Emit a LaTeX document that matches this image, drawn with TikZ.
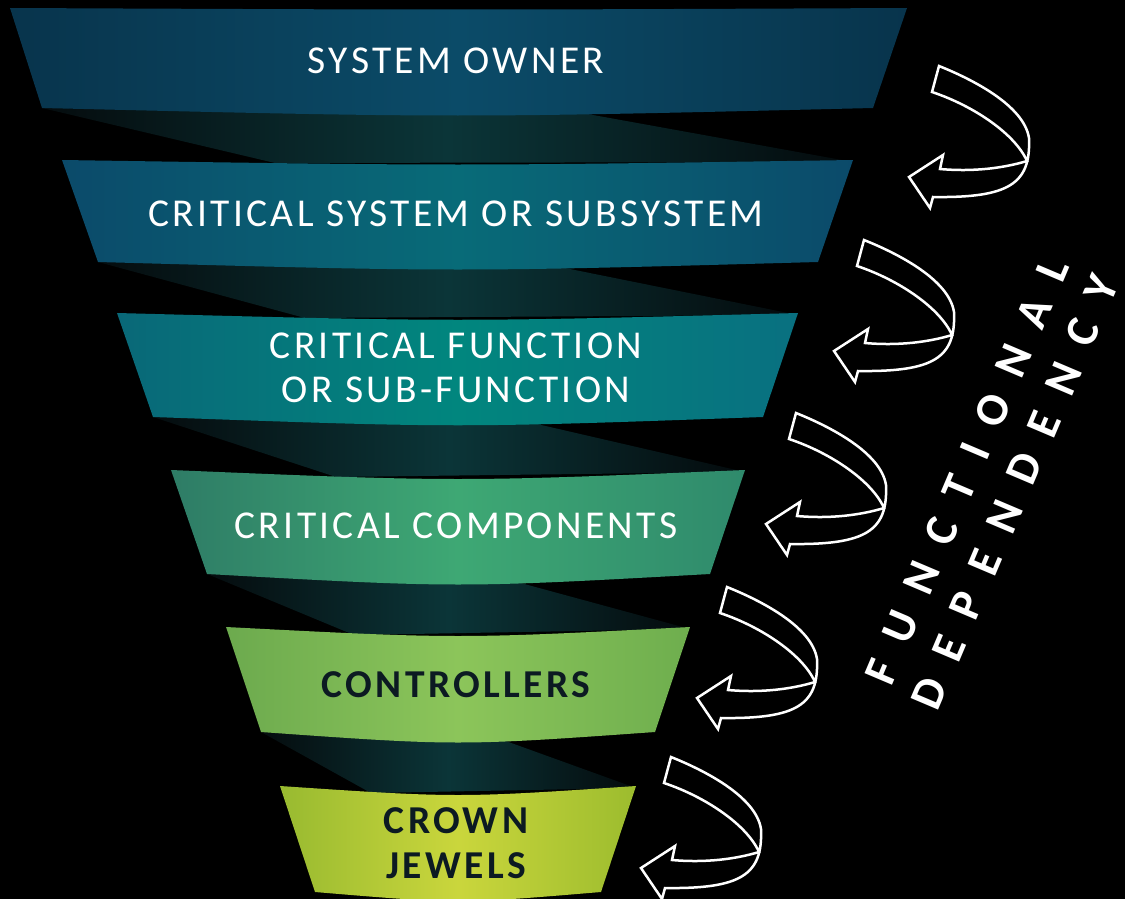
\documentclass[tikz,border=0pt]{standalone}
\usepackage{fontspec}
\setmainfont{Carlito}
\newfontfamily\bandfont[LetterSpace=8.5]{Carlito}
\newfontfamily\sidefont[LetterSpace=50]{Carlito}
\definecolor{shL}{HTML}{050C0E}
\definecolor{shM}{HTML}{0B3538}
\definecolor{shR}{HTML}{040A0C}
\definecolor{darktext}{HTML}{0C1A22}
\definecolor{bOneL}{HTML}{08344C}\definecolor{bOneM}{HTML}{0B4B68}
\definecolor{bTwoL}{HTML}{0B4A6A}\definecolor{bTwoM}{HTML}{086B78}
\definecolor{bThrL}{HTML}{096878}\definecolor{bThrM}{HTML}{01867E}\definecolor{bThrR}{HTML}{097080}
\definecolor{bFouL}{HTML}{2E7C66}\definecolor{bFouM}{HTML}{3EA874}\definecolor{bFouR}{HTML}{2F8A6C}
\definecolor{bFivL}{HTML}{6CAA4E}\definecolor{bFivM}{HTML}{8CC55A}\definecolor{bFivR}{HTML}{6EAE4E}
\definecolor{bSixL}{HTML}{98BA30}\definecolor{bSixM}{HTML}{CAD63C}\definecolor{bSixR}{HTML}{9CBC2E}
\tikzset{
  shadowfill/.style={left color=shL, right color=shR, middle color=shM},
  bandtext/.style={text=white, font=\bandfont\fontsize{39.5}{44}\selectfont, align=center, inner sep=0pt},
  banddark/.style={text=darktext, font=\bandfont\bfseries\fontsize{39.5}{45}\selectfont, align=center, inner sep=0pt},
  sidetext/.style={text=white, font=\sidefont\bfseries\fontsize{46}{48}\selectfont, inner sep=0pt, rotate=67},
  arrowline/.style={draw=white, line width=2.5pt, line join=miter},
  curlarrow/.pic={
    \draw[arrowline] (0,0) .. controls (35,14) and (85,40) .. (90,72)
      .. controls (92,118) and (70,132) .. (-6,131) -- (-9,142) -- (-30,111) -- (4,89) -- (1,103)
      .. controls (35,106) and (65,102) .. (88,95)
      .. controls (76,68) and (35,40) .. (-7,26) -- cycle;
  }
}
\begin{document}
\begin{tikzpicture}[x=1pt,y=-1pt]
\useasboundingbox (0,0) rectangle (1125,899);
\fill[black] (0,0) rectangle (1125,899);
% shadows
\shade[shadowfill] (42,108) -- (582,113) -- (853,162) -- (275,163) -- cycle;
\shade[shadowfill] (98,262) -- (560,267) -- (798,315) -- (305,318) -- cycle;
\shade[shadowfill] (153,417) -- (537,424) -- (745,472) -- (336,477) -- cycle;
\shade[shadowfill] (207,574) -- (517,582) -- (690,629) -- (354,635) -- cycle;
\shade[shadowfill] (261,732) -- (503,740) -- (636,788) -- (371,793) -- cycle;
% bands
\shade[left color=bOneL, right color=bOneL, middle color=bOneM]
  (10,8) .. controls (458,10) .. (907,8) -- (873,108) .. controls (458,118) .. (42,108) -- cycle;
\shade[left color=bTwoL, right color=bTwoL, middle color=bTwoM]
  (62,160) .. controls (458,166) .. (853,160) -- (818,262) .. controls (458,272) .. (98,262) -- cycle;
\shade[left color=bThrL, right color=bThrR, middle color=bThrM]
  (117,313) .. controls (458,322) .. (798,313) -- (763,417) .. controls (458,428) .. (153,417) -- cycle;
\shade[left color=bFouL, right color=bFouR, middle color=bFouM]
  (171,470) .. controls (458,482) .. (745,470) -- (710,574) .. controls (458,588) .. (207,574) -- cycle;
\shade[left color=bFivL, right color=bFivR, middle color=bFivM]
  (226,627) .. controls (458,639) .. (690,627) -- (655,732) .. controls (458,746) .. (261,732) -- cycle;
\shade[left color=bSixL, right color=bSixR, middle color=bSixM]
  (280,786) .. controls (458,798) .. (636,786) -- (601,892) .. controls (458,904) .. (315,892) -- cycle;
% texts
\node[bandtext] (owner) at (456,61) {SYSTEM OWNER};
\node[bandtext] (system) at (456,214) {CRITICAL SYSTEM OR SUBSYSTEM};
\node[bandtext] (function) at (456,368) {CRITICAL FUNCTION\\OR SUB-FUNCTION};
\node[bandtext] (components) at (456,526) {CRITICAL COMPONENTS};
\node[banddark] (controllers) at (456,685) {CONTROLLERS};
\node[banddark] (jewels) at (456,843) {CROWN\\JEWELS};
% arrows
\pic at (939,66) {curlarrow};
\pic at (864,240) {curlarrow};
\pic at (796,413) {curlarrow};
\pic at (727,587) {curlarrow};
\pic at (671,757) {curlarrow};
% side text
\node[sidetext] (functional) at (962.5,481.6) {FUNCTIONAL\kern-0.5em};
\node[sidetext] (dependency) at (1010.5,502.6) {DEPENDENCY\kern-0.5em};
\end{tikzpicture}
\end{document}
